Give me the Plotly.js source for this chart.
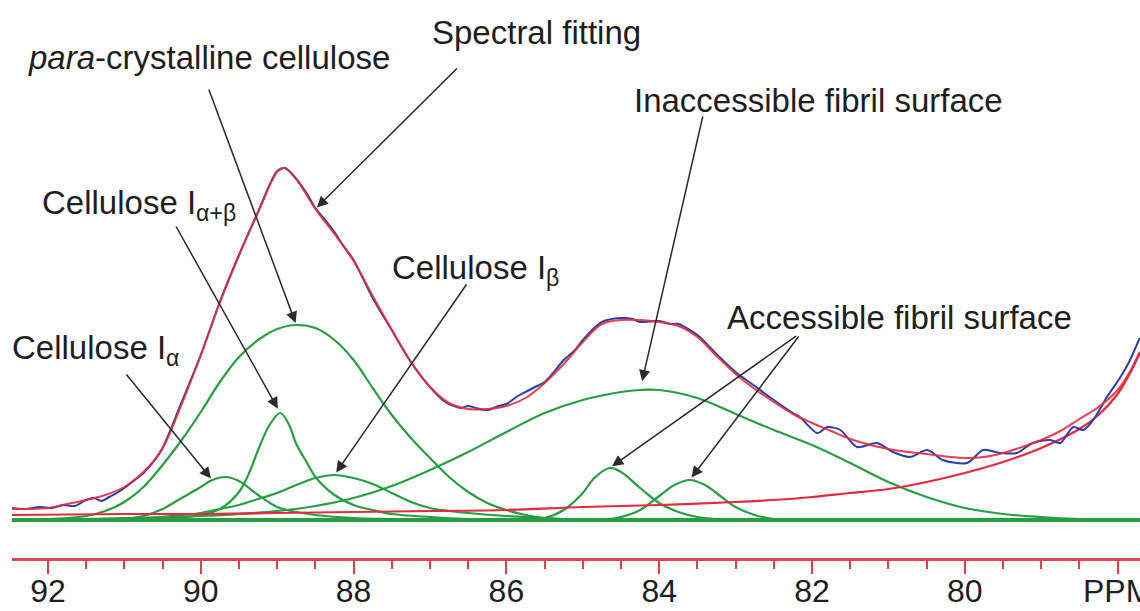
<!DOCTYPE html>
<html>
<head>
<meta charset="utf-8">
<script src="https://cdn.plot.ly/plotly-3.0.1.min.js"></script>
<style>html,body{margin:0;padding:0;background:#fff;}#chart{width:1140px;height:611px;}</style>
</head>
<body>
<div id="chart"></div>
<script>
// ---- data (chemical shift in ppm, intensity in arbitrary units) ----
const tickPpm = [92, 90, 88, 86, 84, 82, 80, 78];
const tickText = ['92', '90', '88', '86', '84', '82', '80', 'PPM'];

const expPpm = [92.47, 92.3, 92.1, 91.95, 91.8, 91.65, 91.5, 91.4, 91.3, 91.2, 91.1, 91.0, 90.9, 90.75, 90.6, 90.5, 90.25, 90.0, 89.75, 89.5, 89.25, 89.0, 88.9, 88.75, 88.6, 88.5, 88.35, 88.25, 88.15, 88.0, 87.75, 87.5, 87.25, 87.0, 86.8, 86.6, 86.5, 86.4, 86.25, 86.1, 86.0, 85.85, 85.75, 85.6, 85.5, 85.4, 85.25, 85.1, 85.0, 84.75, 84.5, 84.35, 84.25, 84.0, 83.85, 83.75, 83.5, 83.25, 83.0, 82.75, 82.5, 82.25, 82.16, 81.93, 81.8, 81.63, 81.41, 81.15, 80.94, 80.72, 80.49, 80.29, 79.97, 79.76, 79.54, 79.32, 79.11, 78.88, 78.75, 78.58, 78.45, 78.32, 78.14, 77.97, 77.85, 77.71];
const expInt = [12, 11, 13, 12, 15, 14, 20, 22, 19, 23, 27, 32, 38, 47, 60, 72, 118, 165, 218, 265, 308, 349, 352, 341, 325, 312, 298, 288, 276, 260, 222, 190, 158, 133, 118, 112, 114, 112, 110, 114, 116, 124, 128, 134, 138, 146, 160, 170, 180, 198, 202, 201, 198, 199, 196, 196, 185, 166, 148, 134, 120, 107, 103, 87, 93, 90, 73, 77, 68, 63, 70, 60, 57, 70, 67, 67, 77, 80, 77, 93, 90, 100, 123, 142, 158, 182];

const fitPpm = [92.47, 92.25, 92, 91.75, 91.5, 91.25, 91, 90.75, 90.5, 90.25, 90, 89.75, 89.5, 89.25, 89, 88.9, 88.75, 88.5, 88.25, 88, 87.75, 87.5, 87.25, 87, 86.75, 86.5, 86.25, 86, 85.75, 85.5, 85.25, 85, 84.75, 84.5, 84.25, 84, 83.75, 83.5, 83.25, 83, 82.75, 82.5, 82.25, 82, 81.75, 81.5, 81, 80.5, 80, 79.75, 79.5, 79.25, 79, 78.75, 78.5, 78.25, 78, 77.85, 77.71];
const fitInt = [11, 11, 12, 16, 20, 25, 33, 48, 72, 116, 165, 218, 265, 308, 348, 352, 341, 311, 286, 259, 224, 190, 158, 133, 117, 111, 111, 114, 122, 137, 156, 178, 196, 200, 200, 198, 194, 183, 164, 146, 131, 118, 106, 97, 89, 81, 71, 66, 62, 63, 67, 73, 80, 89, 101, 113, 130, 147, 168];

const basePpm = [92.47, 91, 90, 89, 88, 87, 86, 85, 84, 83, 82.5, 82, 81.5, 81, 80.5, 80, 79.5, 79, 78.5, 78.25, 78, 77.85, 77.71];
const baseInt = [5, 6, 6, 7, 8, 9, 10, 13, 15, 18, 20, 23, 27, 31, 38, 47, 58, 72, 91, 105, 126, 145, 167];

const iaPpm = [91, 90.75, 90.5, 90.25, 90, 89.85, 89.68, 89.5, 89.25, 89, 88.75, 88.5, 88, 87.5, 87];
const iaInt = [1, 4, 11, 22, 33, 40, 43, 39, 25, 13, 8, 5, 2, 1, 0];

const iabPpm = [90.5, 90, 89.75, 89.5, 89.35, 89.25, 89.1, 88.96, 88.85, 88.75, 88.6, 88.5, 88.25, 88, 87.75, 87.5, 87, 86.5, 86];
const iabInt = [1, 5, 11, 28, 50, 70, 95, 107, 96, 76, 56, 43, 25, 15, 10, 6, 3, 1, 0];

const paraPpm = [92, 91.75, 91.5, 91.25, 91, 90.75, 90.5, 90.25, 90, 89.75, 89.5, 89.25, 89, 88.75, 88.5, 88.25, 88, 87.75, 87.5, 87.25, 87, 86.75, 86.5, 86.25, 86, 85.75, 85.5, 85];
const paraInt = [1, 2, 4, 9, 18, 33, 55, 80, 108, 138, 163, 180, 191, 195, 192, 180, 160, 132, 105, 82, 62, 43, 28, 17, 10, 5, 2, 0];

const ibPpm = [91, 90.5, 90.25, 90, 89.75, 89.5, 89.25, 89, 88.75, 88.5, 88.25, 88, 87.75, 87.5, 87.25, 87, 86.75, 86.5, 86, 85.5, 85];
const ibInt = [1, 3, 5, 7, 11, 15, 21, 27, 35, 42, 45, 42, 36, 27, 18, 12, 9, 7, 4, 2, 0];

const inaccPpm = [91.5, 91, 90, 89, 88.5, 88, 87.5, 87, 86.5, 86, 85.5, 85, 84.5, 84.25, 84, 83.5, 83, 82.5, 82, 81.5, 81, 80.5, 80, 79.5, 79, 78.5, 78];
const inaccInt = [1, 2, 4, 9, 14, 22, 34, 50, 68, 88, 107, 120, 128, 130, 130, 122, 106, 90, 75, 57, 38, 23, 12, 6, 3, 1, 0];

const acc1Ppm = [85.75, 85.5, 85.25, 85, 84.85, 84.65, 84.5, 84.25, 84, 83.75, 83.5, 83.25, 83];
const acc1Int = [0, 2, 10, 27, 42, 52, 48, 32, 17, 8, 3, 1, 0];

const acc2Ppm = [84.75, 84.5, 84.25, 84, 83.8, 83.6, 83.4, 83.25, 83, 82.75, 82.5, 82.25];
const acc2Int = [0, 3, 10, 24, 35, 40, 35, 27, 13, 5, 1, 0];

// ---- styles ----
const GREEN = 'rgb(40,158,68)';
const RED = 'rgb(228,42,62)';
const BLUE = 'rgb(44,62,168)';
const TXT = '#1e1e1e';
const FONT = 'Liberation Sans, Arial, Helvetica, sans-serif';

function comp(xs, ys) {
  return {x: xs, y: ys, type: 'scatter', mode: 'lines',
    line: {color: GREEN, width: 2.2, shape: 'spline', smoothing: 1}, hoverinfo: 'skip'};
}
const traces = [
  comp(iaPpm, iaInt), comp(iabPpm, iabInt), comp(paraPpm, paraInt), comp(ibPpm, ibInt),
  comp(inaccPpm, inaccInt), comp(acc1Ppm, acc1Int), comp(acc2Ppm, acc2Int),
  {x: basePpm, y: baseInt, type: 'scatter', mode: 'lines', line: {color: RED, width: 2.2, shape: 'spline', smoothing: 1}},
  {x: expPpm, y: expInt, type: 'scatter', mode: 'lines', line: {color: BLUE, width: 2, shape: 'spline', smoothing: 0.8}},
  {x: fitPpm, y: fitInt, type: 'scatter', mode: 'lines', line: {color: RED, width: 2, shape: 'spline', smoothing: 1}, opacity: 0.9}
];

function peak(xs, ys) {
  let k = 0;
  for (let i = 1; i < ys.length; i++) if (ys[i] > ys[k]) k = i;
  return [xs[k], ys[k]];
}
function at(xs, ys, v) { const i = xs.indexOf(v); return [xs[i], ys[i]]; }

function arrow(pt, ax, ay, standoff) {
  return {x: pt[0], y: pt[1], xref: 'x', yref: 'y', text: '', showarrow: true,
    ax: ax, ay: ay, arrowhead: 2, arrowsize: 1.5, arrowwidth: 1.5, arrowcolor: '#2a2a2a', standoff: standoff || 2};
}
// plot area: x 12..1140 px, y 0..558 px
function label(text, px, py) {
  return {text: text, xref: 'paper', yref: 'paper', x: (px - 12) / 1128, y: (558 - py) / 558,
    xanchor: 'left', yanchor: 'middle', showarrow: false, font: {family: FONT, size: 33, color: TXT}};
}

const annotations = [
  label('Spectral fitting', 430, 33),
  label('<i>para</i>-crystalline cellulose', 26, 58),
  label('Inaccessible fibril surface', 632, 100),
  label('Cellulose I<sub>α+β</sub>', 40, 205),
  label('Cellulose I<sub>β</sub>', 390, 270),
  label('Accessible fibril surface', 725, 318),
  label('Cellulose I<sub>α</sub>', 10, 350),
  arrow(at(fitPpm, fitInt, 88.5), 143, -142, 2),
  arrow(peak(paraPpm, paraInt), -88, -237, 2),
  arrow(peak(iabPpm, iabInt), -105, -188, 5),
  arrow(at(iaPpm, iaInt, 89.85), -87, -107, 2),
  arrow(peak(ibPpm, ibInt), 133, -192, 3),
  arrow(peak(inaccPpm, inaccInt), 63, -275, 9),
  arrow(peak(acc1Ppm, acc1Int), 188, -133, 3),
  arrow(peak(acc2Ppm, acc2Int), 110, -145, 3)
];

const layout = {
  width: 1140, height: 611,
  margin: {l: 12, r: 0, t: 0, b: 53, pad: 0},
  paper_bgcolor: '#fff', plot_bgcolor: '#fff',
  showlegend: false,
  xaxis: {
    range: [92.471, 77.707], autorange: false,
    showgrid: false, zeroline: false,
    showline: true, linecolor: 'rgb(228,70,80)', linewidth: 3,
    ticks: 'outside', ticklen: 13, tickwidth: 2, tickcolor: 'rgb(225,60,72)',
    tickmode: 'array', tickvals: tickPpm, ticktext: tickText,
    ticklabelstandoff: -10, ticklabeloverflow: 'allow',
    tickfont: {family: FONT, size: 32, color: TXT},
    minor: {tickmode: 'linear', tick0: 78, dtick: 0.5, ticks: 'outside', ticklen: 8, tickwidth: 2, tickcolor: 'rgb(225,60,72)', showgrid: false}
  },
  yaxis: {
    range: [-38, 520], autorange: false,
    showgrid: false, showline: false, ticks: '', showticklabels: false,
    zeroline: true, zerolinecolor: GREEN, zerolinewidth: 4.5
  },
  annotations: annotations
};

Plotly.newPlot('chart', traces, layout, {staticPlot: true, displayModeBar: false});
</script>
</body>
</html>
